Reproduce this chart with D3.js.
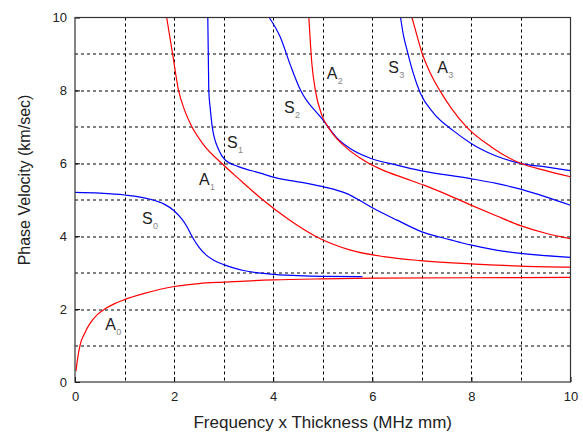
<!DOCTYPE html>
<html>
<head>
<meta charset="utf-8">
<script src="https://cdn.jsdelivr.net/npm/d3@7"></script>
<style>
  body { margin: 0; background: #fff; }
</style>
</head>
<body>
<div id="chart"></div>
<script>
// dispersion curves, [frequency x thickness, phase velocity]
const A0 = [[0.02,0.3],[0.05,0.62],[0.1,1.0],[0.2,1.35],[0.3,1.6],[0.45,1.85],[0.6,2.0],[0.8,2.15],[1.0,2.26],[1.4,2.43],[2,2.62],[2.5,2.7],[3,2.74],[4,2.8],[5,2.83],[6,2.85],[8,2.86],[10,2.87]];
const S0 = [[0,5.2],[0.5,5.18],[1,5.13],[1.5,5.02],[1.8,4.88],[2,4.7],[2.15,4.48],[2.26,4.26],[2.36,4.0],[2.5,3.7],[2.65,3.48],[2.8,3.34],[3,3.22],[3.4,3.06],[3.94,2.96],[4.5,2.92],[5,2.9],[5.8,2.89]];
const A1 = [[1.85,10],[1.97,9],[2.09,8],[2.2,7.5],[2.36,7],[2.6,6.5],[2.96,6],[3.35,5.52],[3.77,5.02],[4.3,4.47],[4.85,4],[5.56,3.62],[6.23,3.44],[6.97,3.33],[7.98,3.24],[9,3.18],[10,3.15]];
const S1 = [[2.68,10],[2.69,9],[2.7,8],[2.73,7.5],[2.77,7],[2.9,6.37],[3.03,6.09],[3.3,5.91],[3.74,5.73],[4.0,5.62],[4.68,5.45],[5.0,5.36],[5.5,5.16],[5.76,4.97],[6.03,4.76],[6.5,4.44],[7.0,4.12],[7.58,3.9],[7.98,3.76],[8.5,3.62],[8.99,3.53],[10,3.42]];
const S2 = [[3.92,10],[4.14,9.47],[4.35,8.68],[4.55,8.01],[4.98,7.23],[5.29,6.69],[5.56,6.4],[5.96,6.14],[6.5,5.95],[6.97,5.8],[7.98,5.58],[8.5,5.45],[8.99,5.29],[9.5,5.08],[10,4.85]];
const A2 = [[4.72,10],[4.78,8.74],[4.85,8.01],[4.98,7.33],[5.15,6.91],[5.49,6.41],[5.76,6.14],[6.2,5.82],[6.63,5.6],[7.04,5.4],[7.58,5.1],[7.98,4.86],[8.5,4.56],[8.99,4.29],[9.5,4.08],[10,3.93]];
const S3 = [[6.57,10],[6.63,9.5],[6.7,9.11],[6.82,8.5],[6.97,7.92],[7.24,7.37],[7.64,6.89],[7.98,6.56],[8.18,6.4],[8.5,6.2],[8.99,6.0],[9.5,5.9],[10,5.8]];
const A3 = [[6.8,10],[6.87,9.66],[7.0,9.04],[7.18,8.45],[7.37,7.98],[7.6,7.5],[7.9,7.0],[8.4,6.45],[8.99,6.0],[9.5,5.8],[10,5.63]];

const modes = [
  {name: "A", sub: "0", pts: A0, type: "anti", lx: 0.61, ly: 1.43},
  {name: "S", sub: "0", pts: S0, type: "sym",  lx: 1.35, ly: 4.33},
  {name: "A", sub: "1", pts: A1, type: "anti", lx: 2.5,  ly: 5.40},
  {name: "S", sub: "1", pts: S1, type: "sym",  lx: 3.07, ly: 6.42},
  {name: "S", sub: "2", pts: S2, type: "sym",  lx: 4.22, ly: 7.38},
  {name: "A", sub: "2", pts: A2, type: "anti", lx: 5.08, ly: 8.31},
  {name: "S", sub: "3", pts: S3, type: "sym",  lx: 6.32, ly: 8.48},
  {name: "A", sub: "3", pts: A3, type: "anti", lx: 7.31, ly: 8.48}
];

const xTicks = [0, 2, 4, 6, 8, 10];
const yTicks = [0, 2, 4, 6, 8, 10];
const gridVals = [1, 2, 3, 4, 5, 6, 7, 8, 9];

const margin = {top: 17.5, right: 12.5, bottom: 55, left: 75};
const width = 583, height = 437;
const visWidth = width - margin.left - margin.right;
const visHeight = height - margin.top - margin.bottom;
const font = 'Arial, "Liberation Sans", sans-serif';

const svg = d3.select('#chart').append('svg')
  .attr('width', width)
  .attr('height', height)
  .attr('font-family', font);

const g = svg.append('g')
  .attr('transform', `translate(${margin.left}, ${margin.top})`);

const x = d3.scaleLinear().domain([0, 10]).range([0, visWidth]);
const y = d3.scaleLinear().domain([0, 10]).range([visHeight, 0]);

// dashed grid
const grid = g.append('g').attr('stroke', '#000').attr('stroke-dasharray', '3,3').attr('stroke-width', 1);
grid.selectAll('.vx')
  .data(gridVals)
  .join('line')
  .attr('x1', d => Math.round(x(d)) + 0.5)
  .attr('x2', d => Math.round(x(d)) + 0.5)
  .attr('y1', 0)
  .attr('y2', visHeight);
grid.selectAll('.hy')
  .data(gridVals)
  .join('line')
  .attr('class', 'hy')
  .attr('x1', 0)
  .attr('x2', visWidth)
  .attr('y1', d => Math.round(y(d)) + 0.5)
  .attr('y2', d => Math.round(y(d)) + 0.5);

// axes
const xAxis = d3.axisBottom(x).tickValues(xTicks).tickSize(-5).tickPadding(10);
const yAxis = d3.axisLeft(y).tickValues(yTicks).tickSize(-5).tickPadding(8);

g.append('g')
  .attr('transform', `translate(0, ${visHeight})`)
  .call(xAxis)
  .call(a => a.select('.domain').remove())
  .call(a => a.selectAll('text').attr('font-size', 13).attr('fill', '#222').attr('font-family', font))
  .call(a => a.selectAll('line').attr('stroke', '#000'));

g.append('g')
  .call(yAxis)
  .call(a => a.select('.domain').remove())
  .call(a => a.selectAll('text').attr('font-size', 13).attr('fill', '#222').attr('font-family', font))
  .call(a => a.selectAll('line').attr('stroke', '#000'));

// curves
g.append('clipPath').attr('id', 'clip')
  .append('rect').attr('width', visWidth).attr('height', visHeight);

const line = d3.line()
  .x(d => x(d[0]))
  .y(d => y(d[1]))
  .curve(d3.curveMonotoneX);

g.append('g')
  .attr('clip-path', 'url(#clip)')
  .selectAll('path')
  .data(modes)
  .join('path')
  .attr('d', d => line(d.pts))
  .attr('fill', 'none')
  .attr('stroke', d => d.type === 'anti' ? '#ff0000' : '#0000ff')
  .attr('stroke-width', 1.2);

// mode labels
const labels = g.append('g').selectAll('g')
  .data(modes)
  .join('g')
  .attr('transform', d => `translate(${x(d.lx)}, ${y(d.ly)})`);
labels.append('text')
  .attr('font-size', 16)
  .attr('fill', '#222')
  .text(d => d.name);
labels.append('text')
  .attr('x', 11)
  .attr('y', 5)
  .attr('font-size', 9)
  .attr('fill', '#888')
  .text(d => d.sub);

// frame
g.append('rect')
  .attr('width', visWidth)
  .attr('height', visHeight)
  .attr('fill', 'none')
  .attr('stroke', '#333')
  .attr('stroke-width', 1.2);

// axis titles
svg.append('text')
  .attr('x', margin.left + visWidth / 2)
  .attr('y', 428)
  .attr('text-anchor', 'middle')
  .attr('font-size', 17)
  .attr('fill', '#222')
  .text('Frequency x Thickness (MHz mm)');

svg.append('text')
  .attr('transform', 'translate(30, 180) rotate(-90)')
  .attr('text-anchor', 'middle')
  .attr('font-size', 16)
  .attr('fill', '#222')
  .text('Phase Velocity (km/sec)');
</script>
</body>
</html>
